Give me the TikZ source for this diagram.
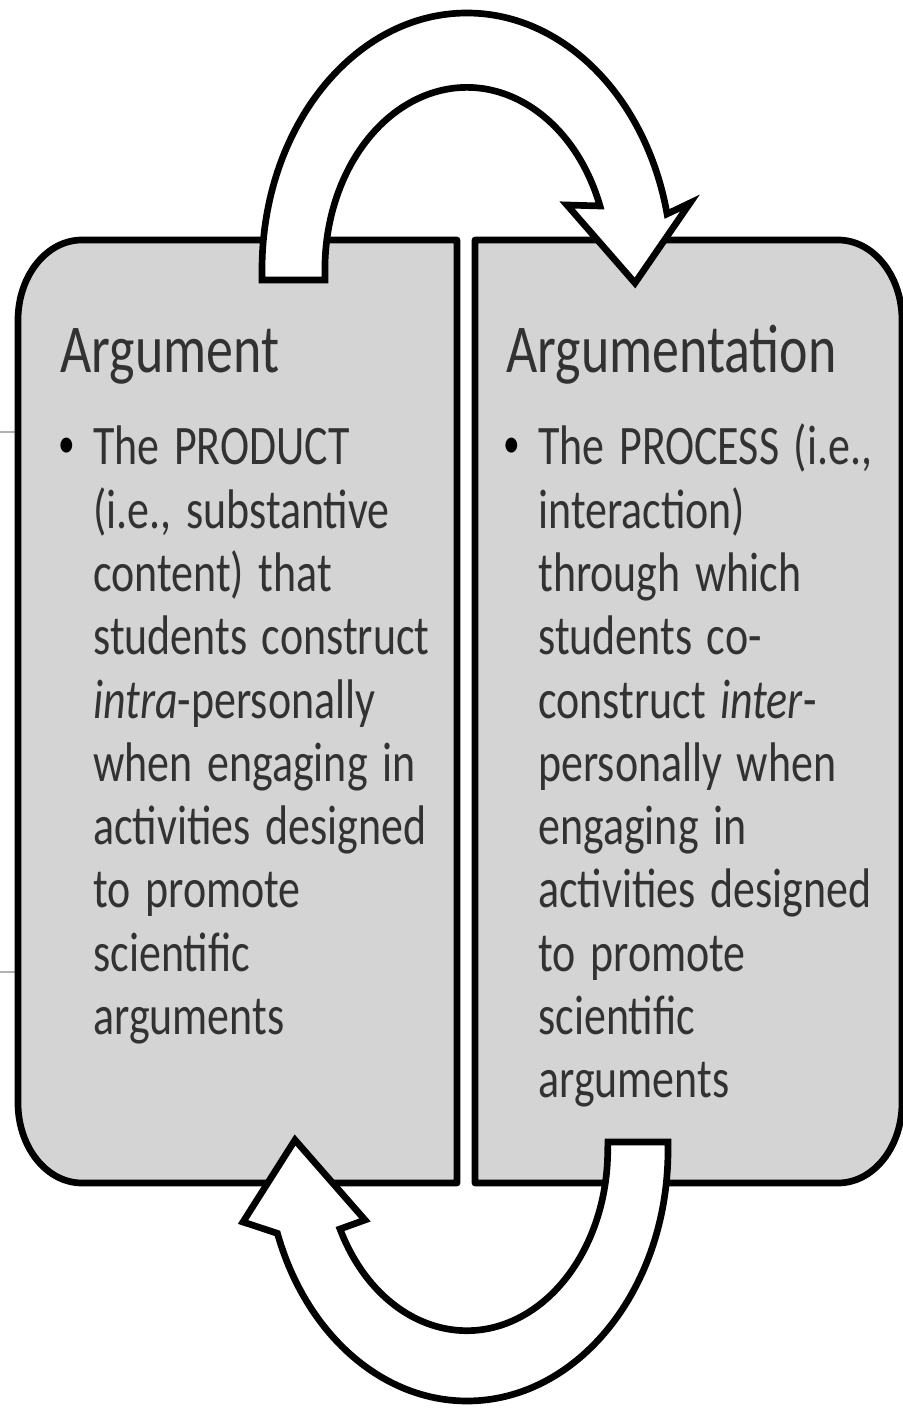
\documentclass[tikz,border=0pt]{standalone}
\usepackage{fontspec}
\setmainfont{Carlito}
\usetikzlibrary{positioning}
\definecolor{panelgray}{RGB}{212,212,212}
\definecolor{inkgray}{RGB}{50,50,50}
\tikzset{
every picture/.style={
line width=3.8pt
}}

\begin{document}
\begin{tikzpicture}[x=0.02cm, y=0.02cm,
panel/.style = {draw=black, fill=panelgray, line join=round},
turn/.style = {draw=black, fill=white, line join=miter},
head/.style = {anchor=base west, inner sep=0pt, text=inkgray, yscale=1.27, font=\fontsize{30.7}{36}\selectfont},
body/.style = {anchor=base west, inner sep=0pt, text=inkgray, yscale=1.27, text width=8cm, align=left, font=\fontsize{25}{28.35}\selectfont},
dot/.style = {anchor=center, inner sep=0pt, text=black, yscale=1.27, font=\fontsize{19}{22}\selectfont}]

\useasboundingbox (0,0) rectangle (903,1411);

\draw[gray!60, line width=1.2pt] (0,979) -- (18,979);
\draw[gray!60, line width=1.2pt] (0,439) -- (18,439);

% left panel
\draw[panel] (457,228) -- (82,228) arc[start angle=270, end angle=180, x radius=64, y radius=80] -- (18,1091) arc[start angle=180, end angle=90, x radius=64, y radius=80] -- (457,1171) -- cycle;
% right panel
\draw[panel] (475,228) -- (838,228) arc[start angle=270, end angle=360, x radius=64, y radius=80] -- (902,1091) arc[start angle=0, end angle=90, x radius=64, y radius=80] -- (475,1171) -- cycle;

% top arrow
\draw[turn] (262,1131) -- (262,1141) arc[start angle=180, end angle=12.6, x radius=205, y radius=257] -- (690,1208) -- (635,1128) -- (567,1206) -- (600,1205) arc[start angle=20.4, end angle=180, x radius=142, y radius=182] -- (325,1131) -- cycle;
% bottom arrow
\draw[turn] (608,269) -- (668,269) -- (668,261) arc[start angle=0, end angle=-160.6, x radius=201, y radius=251] -- (243,189) -- (295,271) -- (365,191) -- (340,182) arc[start angle=-154, end angle=0, x radius=141, y radius=181] -- cycle;

\node[head] (argtitle) at (57,1038) {Argument};
\node[dot] (argdot) at (67,963) {\textbullet};
\node[body] (argtext) at (90,946) {The PRODUCT\\(i.e., substantive\\content) that\\students construct\\\textit{intra}-personally\\when engaging in\\activities designed\\to promote\\scientific\\arguments};

\node[head] (argntitle) at (503,1038) {Argumentation};
\node[dot] (argndot) at (512,963) {\textbullet};
\node[body] (argntext) at (535,946) {The PROCESS (i.e.,\\interaction)\\through which\\students co-\\construct \textit{inter}-\\personally when\\engaging in\\activities designed\\to promote\\scientific\\arguments};
\end{tikzpicture}
\end{document}
